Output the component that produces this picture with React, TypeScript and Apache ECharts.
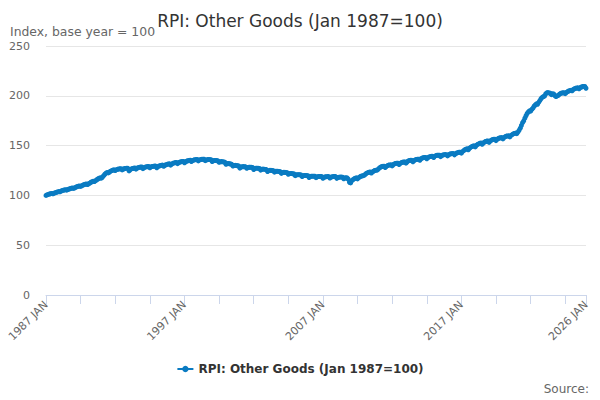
import React, { useEffect, useRef } from "react";
import * as echarts from "echarts";

const MONTHS = ["JAN", "FEB", "MAR", "APR", "MAY", "JUN", "JUL", "AUG", "SEP", "OCT", "NOV", "DEC"];
const FIRST_YEAR = 1987;

const y1987 = [100.0, 100.6, 101.0, 101.4, 101.7, 101.9, 101.6, 102.2, 102.7, 103.1, 103.5, 103.8];
const y1988 = [103.6, 104.3, 104.8, 105.2, 105.5, 105.7, 105.3, 105.9, 106.4, 106.8, 107.2, 107.5];
const y1989 = [107.0, 107.7, 108.3, 108.8, 109.2, 109.5, 109.0, 109.7, 110.3, 110.8, 111.2, 111.5];
const y1990 = [110.9, 111.7, 112.4, 113.2, 113.8, 114.3, 113.9, 114.8, 115.7, 116.5, 117.2, 117.6];
const y1991 = [117.3, 118.5, 119.8, 121.2, 122.3, 123.0, 122.6, 123.5, 124.3, 124.9, 125.4, 125.7];
const y1992 = [125.0, 125.8, 126.2, 126.5, 126.7, 126.8, 125.6, 126.5, 126.9, 127.1, 127.3, 127.2];
const y1993 = [124.6, 125.9, 126.6, 127.0, 127.3, 127.5, 126.4, 127.4, 127.9, 128.2, 128.4, 128.5];
const y1994 = [126.8, 127.9, 128.4, 128.7, 128.9, 129.0, 127.7, 128.6, 129.0, 129.2, 129.4, 129.4];
const y1995 = [127.8, 128.9, 129.5, 129.9, 130.2, 130.4, 129.3, 130.3, 130.8, 131.2, 131.5, 131.7];
const y1996 = [130.4, 131.5, 132.2, 132.6, 132.9, 133.1, 131.9, 132.9, 133.4, 133.7, 134.0, 134.1];
const y1997 = [132.7, 133.8, 134.4, 134.8, 135.1, 135.3, 134.0, 135.0, 135.5, 135.8, 136.0, 136.1];
const y1998 = [134.6, 135.6, 136.0, 136.2, 136.3, 136.3, 134.9, 135.6, 135.9, 136.0, 136.0, 135.8];
const y1999 = [134.0, 134.8, 135.0, 135.0, 134.9, 134.7, 133.2, 133.8, 133.9, 133.8, 133.6, 133.3];
const y2000 = [131.3, 131.9, 132.0, 131.8, 131.5, 131.2, 129.5, 130.1, 130.2, 130.0, 129.8, 129.5];
const y2001 = [127.4, 128.4, 128.8, 128.9, 128.8, 128.7, 127.2, 128.0, 128.3, 128.3, 128.2, 128.0];
const y2002 = [126.0, 127.0, 127.3, 127.3, 127.2, 127.0, 125.4, 126.2, 126.4, 126.3, 126.1, 125.9];
const y2003 = [123.9, 124.8, 125.1, 125.1, 125.0, 124.8, 123.3, 124.1, 124.3, 124.2, 124.0, 123.8];
const y2004 = [122.1, 122.9, 123.1, 123.1, 123.0, 122.8, 121.2, 121.9, 122.0, 121.9, 121.7, 121.5];
const y2005 = [119.8, 120.6, 120.8, 120.8, 120.7, 120.5, 119.0, 119.8, 120.0, 120.0, 119.9, 119.7];
const y2006 = [118.0, 118.9, 119.2, 119.3, 119.3, 119.2, 117.8, 118.6, 118.9, 119.0, 119.0, 118.9];
const y2007 = [117.2, 118.2, 118.6, 118.8, 118.9, 118.9, 117.4, 118.3, 118.7, 118.9, 119.0, 118.9];
const y2008 = [117.1, 118.0, 118.3, 118.4, 118.4, 118.3, 116.7, 117.5, 117.7, 117.5, 116.2, 113.2];
const y2009 = [112.5, 114.6, 115.8, 116.6, 117.2, 117.6, 116.6, 117.8, 118.6, 119.2, 119.6, 119.8];
const y2010 = [120.4, 121.5, 122.3, 122.9, 123.3, 123.5, 122.4, 123.6, 124.4, 125.0, 125.3, 125.4];
const y2011 = [126.4, 127.6, 128.4, 128.9, 129.2, 129.3, 128.0, 129.2, 129.9, 130.4, 130.6, 130.7];
const y2012 = [129.6, 131.0, 131.7, 132.1, 132.3, 132.3, 131.0, 132.2, 132.9, 133.3, 133.5, 133.5];
const y2013 = [132.4, 133.8, 134.6, 135.0, 135.2, 135.2, 133.8, 135.0, 135.7, 136.1, 136.3, 136.3];
const y2014 = [135.3, 136.8, 137.5, 137.9, 138.1, 138.1, 136.7, 137.9, 138.6, 139.0, 139.2, 139.2];
const y2015 = [138.0, 139.4, 140.0, 140.3, 140.4, 140.3, 138.9, 140.0, 140.6, 140.9, 141.0, 140.9];
const y2016 = [139.6, 140.9, 141.5, 141.8, 142.0, 142.0, 140.7, 141.9, 142.6, 143.0, 143.3, 143.4];
const y2017 = [142.4, 144.0, 145.0, 145.8, 146.4, 146.8, 145.8, 147.3, 148.3, 149.0, 149.5, 149.8];
const y2018 = [148.7, 150.3, 151.2, 151.8, 152.3, 152.6, 151.3, 152.6, 153.5, 154.1, 154.5, 154.6];
const y2019 = [153.2, 154.7, 155.5, 156.0, 156.3, 156.4, 155.0, 156.3, 157.1, 157.6, 157.9, 158.0];
const y2020 = [156.7, 158.2, 159.0, 159.5, 159.7, 159.8, 158.7, 160.2, 161.1, 161.8, 162.2, 162.6];
const y2021 = [162.0, 163.6, 165.3, 167.5, 170.2, 173.0, 174.8, 177.5, 180.0, 182.2, 183.8, 184.9];
const y2022 = [184.6, 186.3, 187.6, 189.5, 190.8, 191.9, 191.5, 193.4, 195.2, 197.0, 198.4, 199.2];
const y2023 = [199.6, 201.8, 203.0, 203.2, 202.9, 202.6, 201.2, 202.0, 201.8, 200.1, 199.3, 199.9];
const y2024 = [200.4, 201.6, 202.4, 202.8, 203.0, 203.1, 202.1, 203.4, 204.2, 204.8, 205.2, 205.5];
const y2025 = [205.1, 206.4, 207.1, 207.5, 207.8, 208.0, 207.0, 208.2, 208.8, 209.2, 209.4, 209.3];
const y2026 = [207.6];

const YEARS = [
  y1987, y1988, y1989, y1990, y1991, y1992, y1993, y1994, y1995, y1996,
  y1997, y1998, y1999, y2000, y2001, y2002, y2003, y2004, y2005, y2006,
  y2007, y2008, y2009, y2010, y2011, y2012, y2013, y2014, y2015, y2016,
  y2017, y2018, y2019, y2020, y2021, y2022, y2023, y2024, y2025, y2026,
];

const SERIES_NAME = "RPI: Other Goods (Jan 1987=100)";
const TITLE = "RPI: Other Goods (Jan 1987=100)";
const SUBTITLE = "Index, base year = 100";
const SOURCE = "Source:";

const FONT = "'DejaVu Sans', sans-serif";
const BLUE = "#0a7bc2";

export default function App() {
  const ref = useRef<HTMLDivElement>(null);

  useEffect(() => {
    if (!ref.current) return;
    const chart = echarts.init(ref.current, undefined, { renderer: "svg" });

    const categories: string[] = [];
    const values: number[] = [];
    YEARS.forEach((arr, yi) => {
      arr.forEach((v, mi) => {
        categories.push(`${FIRST_YEAR + yi} ${MONTHS[mi]}`);
        values.push(v);
      });
    });
    const last = categories.length - 1;

    chart.setOption({
      animation: false,
      textStyle: { fontFamily: FONT },
      title: {
        text: TITLE,
        left: "center",
        top: 7,
        textStyle: { fontFamily: FONT, fontSize: 17, fontWeight: "normal", color: "#333333" },
      },
      graphic: [
        {
          type: "text",
          left: 10,
          top: 25,
          style: { text: SUBTITLE, fontFamily: FONT, fontSize: 12.4, fill: "#666666" },
        },
        {
          type: "text",
          right: 11,
          top: 383,
          style: { text: SOURCE, fontFamily: FONT, fontSize: 12, fill: "#666666" },
        },
      ],
      legend: {
        bottom: 20,
        left: "center",
        itemWidth: 16,
        itemHeight: 8,
        itemGap: 4,
        data: [SERIES_NAME],
        textStyle: { fontFamily: FONT, fontSize: 12, fontWeight: "bold", color: "#333333" },
      },
      grid: { left: 46, right: 14, top: 46, bottom: 105, containLabel: false },
      xAxis: {
        type: "category",
        data: categories,
        boundaryGap: false,
        axisLine: { lineStyle: { color: "#ccd6eb", width: 1 } },
        axisTick: {
          show: true,
          length: 9,
          lineStyle: { color: "#ccd6eb" },
          interval: (i: number) => i % 30 === 0 || i === last,
        },
        axisLabel: {
          rotate: 45,
          color: "#666666",
          fontSize: 11,
          fontFamily: FONT,
          margin: 8,
          interval: (i: number) => i % 120 === 0 || i === last,
        },
        splitLine: { show: false },
      },
      yAxis: {
        type: "value",
        min: 0,
        max: 250,
        interval: 50,
        axisLine: { show: false },
        axisTick: { show: false },
        axisLabel: { color: "#666666", fontSize: 11, fontFamily: FONT, margin: 16 },
        splitLine: { lineStyle: { color: "#e6e6e6", width: 1 } },
      },
      series: [
        {
          name: SERIES_NAME,
          type: "line",
          data: values,
          color: BLUE,
          lineStyle: { width: 2.5, color: BLUE },
          symbol: "circle",
          symbolSize: 5,
          showSymbol: true,
          showAllSymbol: true,
          itemStyle: { color: BLUE },
        },
      ],
    });

    return () => chart.dispose();
  }, []);

  return (
    <div
      ref={ref}
      style={{ position: "fixed", left: 0, top: 0, width: 600, height: 400, background: "#ffffff" }}
    />
  );
}
